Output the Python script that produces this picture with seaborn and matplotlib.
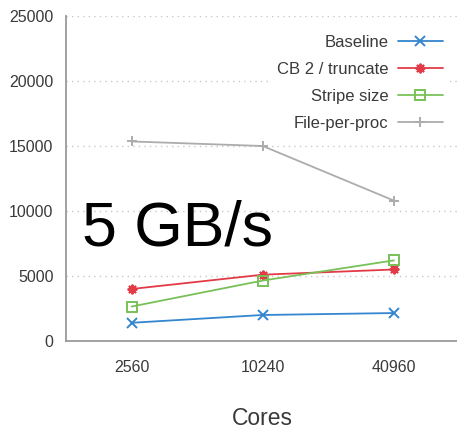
import matplotlib
matplotlib.use("Agg")
import matplotlib.pyplot as plt
import matplotlib.ticker as mticker
import seaborn as sns
import pandas as pd

# Write bandwidth (MB/s) versus core count for each I/O strategy
cores = [2560, 10240, 40960]
core_labels = ["2560", "10240", "40960"]
baseline = [1400, 2000, 2150]
cb2_truncate = [4000, 5100, 5500]
stripe_size = [2650, 4650, 6200]
file_per_proc = [15350, 15000, 10800]

series_names = ["Baseline", "CB 2 / truncate", "Stripe size", "File-per-proc"]
series_values = [baseline, cb2_truncate, stripe_size, file_per_proc]
colors = ["#3486cf", "#e23b47", "#78c159", "#acacac"]
markers = ["x", (8, 2, 0), "s", "+"]
y_ticks = [0, 5000, 10000, 15000, 20000, 25000]

sns.set_theme(style="white")
plt.rcParams["font.family"] = ["Liberation Sans", "DejaVu Sans"]

fig = plt.figure(figsize=(4.57, 4.33), dpi=100)
ax = fig.add_axes([0.1444, 0.2125, 0.861, 0.7505])

frames = []
for name, vals in zip(series_names, series_values):
    frames.append(pd.DataFrame({"cores": cores, "bw": vals, "series": name}))
df = pd.concat(frames, ignore_index=True)

for name, color, marker in zip(series_names, colors, markers):
    sub = df[df["series"] == name]
    sns.lineplot(data=sub, x="cores", y="bw", ax=ax, color=color, label=name,
                 marker=marker, markersize=7, linewidth=1.3,
                 markeredgecolor=color, markeredgewidth=1.4,
                 markerfacecolor="none" if marker == "s" else color,
                 sort=False)

ax.set_xscale("log", base=4)
ax.set_xlim(cores[0] / 2, cores[-1] * 2)
ax.xaxis.set_major_locator(mticker.FixedLocator(cores))
ax.xaxis.set_major_formatter(mticker.FixedFormatter(core_labels))
ax.xaxis.set_minor_locator(mticker.NullLocator())
ax.set_ylim(0, 25000)
ax.set_yticks(y_ticks)
ax.set_yticklabels([str(t) for t in y_ticks])

ax.grid(axis="y", color="#c8c8c8", linestyle=(0, (1, 3)), linewidth=1.0)
ax.grid(axis="x", visible=False)
ax.set_axisbelow(True)

for side in ["top", "right"]:
    ax.spines[side].set_visible(False)
for side in ["left", "bottom"]:
    ax.spines[side].set_color("#9a9a9a")
    ax.spines[side].set_linewidth(1.3)

ax.tick_params(axis="both", direction="in", length=6.5, width=1.0,
               color="#9a9a9a", labelcolor="#3a3a3a", labelsize=11.5)
ax.tick_params(axis="x", pad=14)
ax.tick_params(axis="y", pad=9)

ax.set_ylabel("")
ax.set_xlabel("Cores", fontsize=16.5, color="#3a3a3a", labelpad=23)

leg = ax.legend(loc="upper right", bbox_to_anchor=(0.991, 0.984), markerfirst=False,
                frameon=True, fontsize=12, handlelength=2.7, handletextpad=0.55,
                labelspacing=0.72, borderpad=0.3, fancybox=False)
leg.get_frame().set_facecolor("white")
leg.get_frame().set_edgecolor("none")
leg.get_frame().set_alpha(1.0)
for t in leg.get_texts():
    t.set_color("#3a3a3a")

fig.text(82 / 457, 1 - 245 / 433, "5 GB/s", fontsize=45, color="black",
         ha="left", va="baseline")

fig.savefig("out.png", dpi=100)
